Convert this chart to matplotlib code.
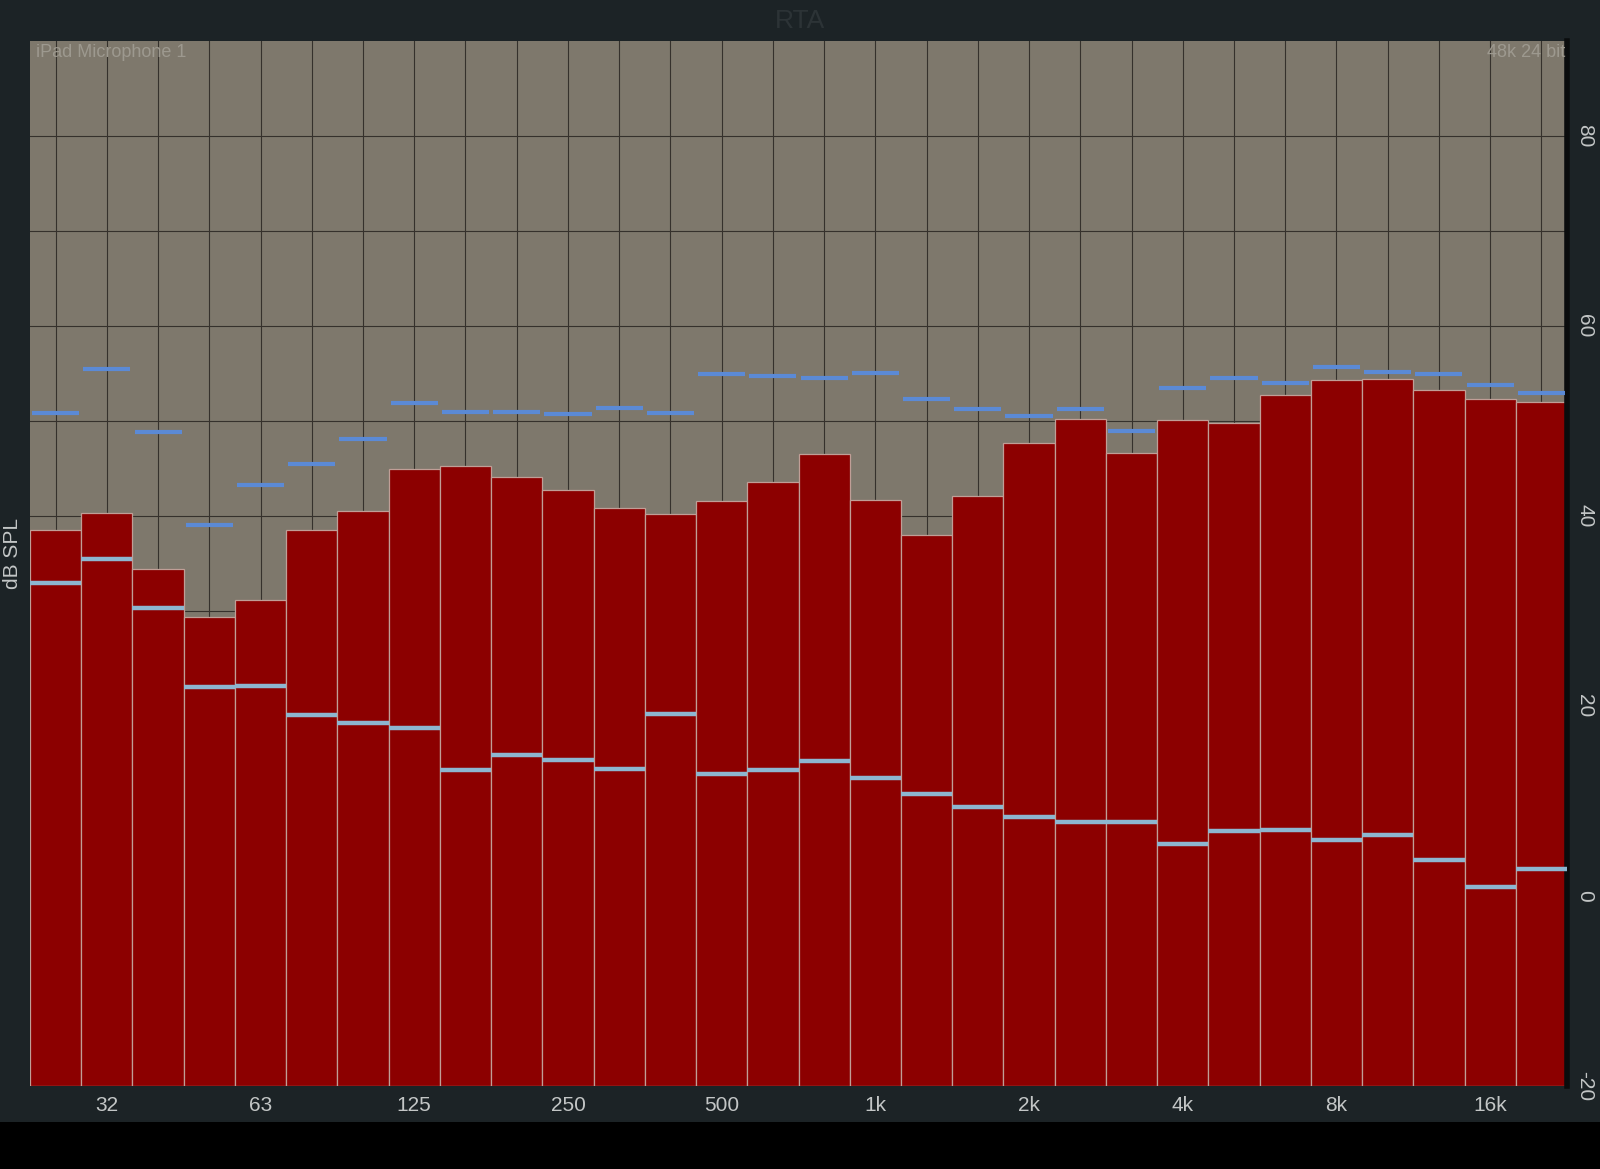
import matplotlib
matplotlib.use("Agg")
import matplotlib.pyplot as plt
import numpy as np

plt.rcParams["font.family"] = ["Liberation Sans", "DejaVu Sans"]

bands = ["25", "31.5", "40", "50", "63", "80", "100", "125", "160", "200",
         "250", "315", "400", "500", "630", "800", "1k", "1.25k", "1.6k", "2k",
         "2.5k", "3.15k", "4k", "5k", "6.3k", "8k", "10k", "12.5k", "16k", "20k"]
level = [38.5, 40.3, 34.4, 29.4, 31.2, 38.5, 40.5, 45.0, 45.3, 44.1,
         42.7, 40.8, 40.2, 41.6, 43.6, 46.5, 41.7, 38.0, 42.1, 47.7,
         50.2, 46.6, 50.1, 49.8, 52.7, 54.3, 54.4, 53.3, 52.3, 52.0]
peak = [50.8, 55.5, 48.8, 39.1, 43.3, 45.5, 48.1, 51.9, 51.0, 50.9,
        50.7, 51.4, 50.8, 54.9, 54.7, 54.5, 55.1, 52.3, 51.3, 50.5,
        51.3, 49.0, 53.5, 54.5, 54.0, 55.7, 55.2, 54.9, 53.8, 53.0]
minimum = [33.0, 35.5, 30.3, 22.0, 22.1, 19.1, 18.2, 17.7, 13.3, 14.8,
           14.3, 13.4, 19.2, 12.8, 13.3, 14.2, 12.4, 10.7, 9.4, 8.3,
           7.8, 7.8, 5.5, 6.8, 7.0, 5.9, 6.4, 3.8, 1.0, 2.8]
xtick_labels = ["32", "63", "125", "250", "500", "1k", "2k", "4k", "8k", "16k"]
xtick_bands = ["31.5", "63", "125", "250", "500", "1k", "2k", "4k", "8k", "16k"]
ytick_values = [-20, 0, 20, 40, 60, 80]

W, H = 1600, 1169
fig = plt.figure(figsize=(16, 11.69), dpi=100, facecolor="#1c2326")
# black strip at bottom
fig.patches.append(plt.Rectangle((0, 0), 1, 1 - 1122 / H, transform=fig.transFigure,
                                 facecolor="black", edgecolor="none", zorder=0))

left, right, top, bottom = 30, 1567, 41, 1086
ax = fig.add_axes([left / W, 1 - bottom / H, (right - left) / W, (bottom - top) / H])
ax.set_facecolor("#7e786c")

x = np.arange(len(bands))
ymin = -20
ax.bar(x, np.array(level) - ymin, bottom=ymin, width=1.0, color="#8c0000",
       edgecolor="#c09e96", linewidth=0.9, zorder=2)
ax.hlines(minimum, x - 0.5, x + 0.5, colors="#8db6d0", linewidth=3.2, zorder=3)
ax.hlines(peak, x - 0.46, x + 0.46, colors="#5b8ad6", linewidth=3.0, zorder=3)

ax.set_xlim(-0.5, len(bands) - 0.5)
ax.set_ylim(-20, 90)

# grid
for xi in x:
    ax.axvline(xi, color="#35312c", linewidth=0.8, zorder=1)
for yv in range(-10, 90, 10):
    ax.axhline(yv, color="#35312c", linewidth=0.8, zorder=1)

ax.set_xticks([bands.index(b) for b in xtick_bands])
ax.set_xticklabels(xtick_labels)
ax.yaxis.tick_right()
ax.set_yticks(ytick_values)
ax.set_yticklabels([str(v) for v in ytick_values], rotation=-90, va="center")
ax.tick_params(axis="both", length=0, colors="#c3c6c6", labelsize=15)
ax.tick_params(axis="x", pad=7)
ax.tick_params(axis="y", pad=6)
for s in ax.spines.values():
    s.set_visible(False)
ax.spines["right"].set_visible(True)
ax.spines["right"].set_color("#0a0c0d")
ax.spines["right"].set_linewidth(4)

fig.text(13 / W, 1 - 553 / H, "dB SPL", rotation=90, color="#c3c6c6",
         fontsize=15, ha="center", va="center")
fig.text(800 / W, 1 - 21 / H, "RTA", color="#2c3336", fontsize=19,
         ha="center", va="center")
ax.text(0.004, 0.997, "iPad Microphone 1", transform=ax.transAxes, color="#9d998f",
        fontsize=13, ha="left", va="top", zorder=5)
ax.text(0.999, 0.997, "48k 24 bit", transform=ax.transAxes, color="#9d998f",
        fontsize=13, ha="right", va="top", zorder=5)

fig.savefig("out.png", dpi=100, facecolor=fig.get_facecolor())
